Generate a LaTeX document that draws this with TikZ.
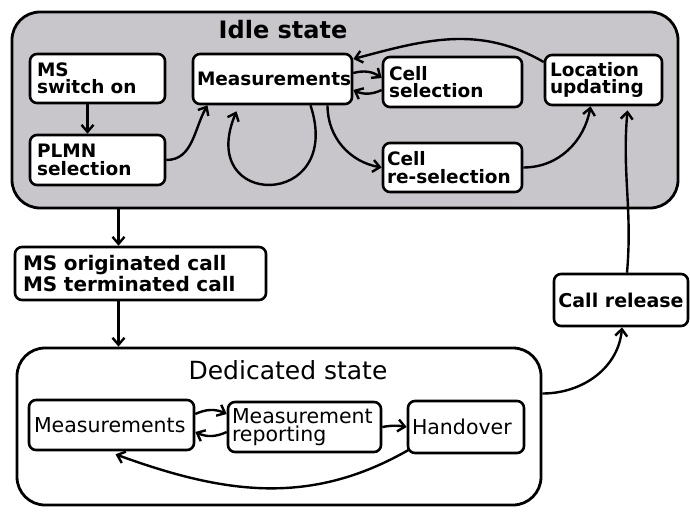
\documentclass[tikz,border=0pt]{standalone}
\usepackage{fontspec}
\setmainfont{DejaVu Sans}
\usetikzlibrary{arrows.meta}
\definecolor{idlegray}{RGB}{201,198,203}
\tikzset{
  box/.style={draw, line width=2.6pt, rounded corners=7pt, fill=white, inner sep=0pt, font=\fontsize{18.5}{17.5}\selectfont\bfseries, align=left},
  dbox/.style={box, font=\fontsize{20.5}{18.5}\selectfont},
  outer/.style={draw, line width=2.8pt, rounded corners=28pt, inner sep=0pt},
  arr/.style={line width=2.4pt, -{Straight Barb[length=7pt,width=12pt,line width=2.4pt]}},
}
\begin{document}
\begin{tikzpicture}[x=1pt,y=1pt]
\useasboundingbox (0,0) rectangle (690,-511);
% outer state boxes
\node[outer, fill=idlegray, minimum width=666pt, minimum height=196pt] (idle) at (345,-110) {};
\node[outer, fill=white, minimum width=524pt, minimum height=157pt] (ded) at (279,-426.5) {};
\node[font=\fontsize{24}{26}\selectfont\bfseries] (idlet) at (283,-30) {Idle state};
\node[font=\fontsize{25}{26}\selectfont] (dedt) at (288,-370) {Dedicated state};
% idle nodes
\node[box, minimum width=135pt, minimum height=49pt, text width=121pt] (ms) at (97.5,-78.5) {MS\\switch on};
\node[box, minimum width=135pt, minimum height=50pt, text width=121pt] (plmn) at (97.5,-160) {PLMN\\selection};
\node[box, minimum width=159pt, minimum height=50pt, text width=151pt] (meas) at (272.5,-79) {Measurements};
\node[box, minimum width=139pt, minimum height=50pt, text width=127pt] (cellsel) at (452.5,-82) {Cell\\selection};
\node[box, minimum width=117pt, minimum height=50pt, text width=107pt] (loc) at (603.5,-80) {Location\\updating};
\node[box, minimum width=139pt, minimum height=49pt, text width=131pt] (resel) at (452.5,-167.5) {Cell\\re-selection};
% middle nodes
\node[box, font=\fontsize{20}{18}\selectfont\bfseries, minimum width=251pt, minimum height=53pt, text width=235pt] (orig) at (140.5,-273.5) {MS originated call\\MS terminated call};
\node[box, font=\fontsize{19}{18}\selectfont\bfseries, align=center, minimum width=134pt, minimum height=52pt] (callrel) at (621,-300) {Call release};
% dedicated nodes
\node[dbox, minimum width=165pt, minimum height=50pt, text width=155pt] (dmeas) at (111.5,-425) {Measurements};
\node[dbox, minimum width=153pt, minimum height=50pt, text width=145pt] (drep) at (304.5,-427) {Measurement\\reporting};
\node[dbox, minimum width=116pt, minimum height=52pt, text width=108pt] (hand) at (466,-427) {Handover};
% idle connectors
\draw[arr] ([xshift=-10pt]ms.south) -- ([xshift=-10pt]plmn.north);
\draw[arr] (plmn.east) to[out=0,in=-120] ([xshift=-65pt]meas.south);
\draw[arr] ([xshift=38pt]meas.south) .. controls (345,-210) and (195,-210) .. ([xshift=-36pt,yshift=-6pt]meas.south);
\draw[arr] ([yshift=6pt]meas.east) to[bend left=25] ([yshift=4pt]cellsel.west);
\draw[arr] ([yshift=-8pt]cellsel.west) to[bend left=25] ([yshift=-11pt]meas.east);
\draw[arr] ([yshift=18pt]loc.west) to[out=150,in=15] ([yshift=20pt]meas.east);
\draw[arr] ([xshift=55pt]meas.south) to[out=-90,in=170] (resel.west);
\draw[arr] (resel.east) to[out=0,in=-100] ([xshift=-13pt]loc.south);
\draw[arr] ([xshift=6pt]callrel.north) to[out=85,in=-95] ([xshift=24pt,yshift=-4pt]loc.south);
% vertical connectors
\coordinate (a) at ([xshift=-22pt]orig.north);
\coordinate (b) at ([xshift=-22pt]orig.south);
\draw[arr] (idle.south -| a) -- (a);
\draw[arr] (b) -- (ded.north -| b);
% dedicated connectors
\draw[arr] ([yshift=11pt]dmeas.east) to[bend left=25] ([yshift=13pt]drep.west);
\draw[arr] ([yshift=-5pt]drep.west) to[bend left=25] ([yshift=-7pt]dmeas.east);
\draw[arr] (drep.east) to[bend left=10] (hand.west);
\draw[arr] ([shift={(3pt,5pt)}]hand.south west) to[out=-150,in=-20] ([xshift=4pt,yshift=-3pt]dmeas.south);
\draw[arr] ([yshift=33pt]ded.east) to[out=0,in=-95] ([xshift=1pt]callrel.south);
\end{tikzpicture}
\end{document}
